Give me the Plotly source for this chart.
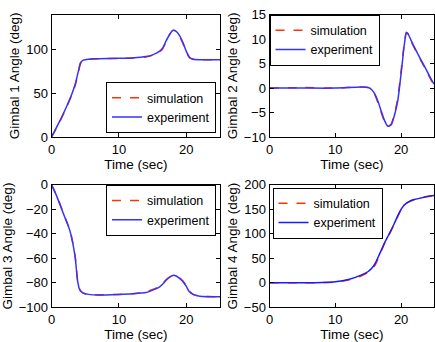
import plotly.graph_objects as go

# ---- data ----
t1 = [0, 1, 2, 3, 3.5, 4, 4.3, 4.7, 5.5, 7, 10, 12, 14, 15, 16, 16.5, 17, 17.5, 18, 18.5, 19, 19.5, 20, 20.5, 21, 22, 25]
g1_exp = [0, 15, 31, 49, 60, 76, 85, 88, 89, 89.5, 90, 90.5, 92, 94, 98, 102, 110, 117, 122, 121, 116, 108, 98, 91, 89, 88.5, 88.5]
g1_sim = [0, 14, 30, 48, 59, 75, 84, 87.5, 89, 89.5, 90, 90.5, 91.5, 93.5, 97, 101, 109, 117, 122, 121, 115, 107, 97, 90.5, 89, 88.5, 88.5]

t2 = [0, 5, 10, 14, 15, 15.5, 16, 16.5, 17, 17.5, 18, 18.5, 19, 19.5, 20, 20.5, 20.8, 21, 21.5, 22, 22.5, 23, 23.5, 24, 24.5, 25]
g2_exp = [0, 0, 0, 0.2, 0.1, -0.3, -1.2, -2.8, -4.8, -6.7, -7.8, -7.5, -5.5, -2.5, 3, 9, 11.3, 11.2, 9.8, 8.4, 7.1, 5.8, 4.6, 3.3, 2, 0.8]
g2_sim = [0, 0.1, 0, 0.2, 0.1, -0.4, -1.4, -3.1, -5.1, -6.9, -7.8, -7.3, -5.2, -2, 3.5, 9.4, 11.4, 11.1, 9.6, 8.2, 6.9, 5.6, 4.4, 3.1, 1.8, 0.6]

t3 = [0, 0.75, 1.75, 2.75, 3.5, 3.85, 4.2, 4.7, 5.5, 7, 10, 12, 14, 15, 16, 16.5, 17, 17.5, 18, 18.5, 19, 19.5, 20, 20.4, 21, 22, 25]
g3_exp = [0, -9, -23.5, -38, -59, -78, -86, -88.5, -89.5, -90, -89.5, -89, -88, -86, -83.5, -81, -78, -75.5, -74, -74.5, -76.5, -79, -83, -87, -89.5, -91, -91.5]
g3_sim = [0, -8.5, -23, -37.5, -58, -77, -85.5, -88.5, -89.5, -90, -89.5, -89, -87.5, -85.5, -83, -80.5, -77.5, -75.5, -74, -74.5, -76, -78.5, -82.5, -86.5, -89.5, -91, -91.5]

t4 = [0, 5, 8, 10, 12, 14, 15, 15.5, 16, 16.5, 17, 17.5, 18, 18.5, 19, 19.5, 20, 20.2, 20.5, 21, 22, 23, 24, 25]
g4_exp = [0, 0, 0.5, 2, 6.5, 16, 23, 29, 38, 52, 67, 82, 95, 108, 122, 137, 150, 154, 159, 164, 170, 173, 176, 178]
g4_sim = [0, 0, 0.3, 1.5, 5.5, 14, 21, 27, 35, 49, 65, 81, 94, 107, 121, 136, 150, 154, 159, 164, 170, 173, 176, 178]

y_titles = ["Gimbal 1 Angle (deg)", "Gimbal 2 Angle (deg)", "Gimbal 3 Angle (deg)", "Gimbal 4 Angle (deg)"]
y_ranges = [[0, 140], [-10, 15], [-100, 0], [-50, 200]]
y_dticks = [50, 5, 20, 50]

W, H = 435, 342
SIM_COLOR = "#ff3300"
EXP_COLORS = ["#3333ff", "#3333ff", "#3333ff", "#1a1aff"]

panels = [
    dict(t=t1, sim=g1_sim, exp=g1_exp),
    dict(t=t2, sim=g2_sim, exp=g2_exp),
    dict(t=t3, sim=g3_sim, exp=g3_exp),
    dict(t=t4, sim=g4_sim, exp=g4_exp),
]

# plot-area pixel boxes (left, right, top, bottom)
boxes = [(48, 218, 8, 136), (268, 434, 8, 136), (48, 218, 186, 314), (268, 434, 186, 314)]

legend_pos = [
    dict(x=214 / W, xanchor="right", y=1 - 132 / H, yanchor="bottom"),
    dict(x=268 / W, xanchor="left", y=1 - 8 / H, yanchor="top"),
    dict(x=214 / W, xanchor="right", y=1 - 186 / H, yanchor="top"),
    dict(x=271 / W, xanchor="left", y=1 - 189 / H, yanchor="top"),
]

fig = go.Figure()
font = dict(family="Liberation Sans, Arial, sans-serif", size=13, color="black")
layout = dict(
    width=W, height=H, margin=dict(l=0, r=0, t=0, b=0),
    paper_bgcolor="white", plot_bgcolor="white", font=font,
    showlegend=True,
)

for i, p in enumerate(panels):
    n = "" if i == 0 else str(i + 1)
    lg = "legend" if i == 0 else f"legend{i + 1}"
    fig.add_trace(go.Scatter(x=p["t"], y=p["sim"], mode="lines", name="simulation",
                             line=dict(color=SIM_COLOR, width=1.5, dash="dash", shape="spline", smoothing=0.6),
                             xaxis=f"x{n}", yaxis=f"y{n}", legend=lg))
    fig.add_trace(go.Scatter(x=p["t"], y=p["exp"], mode="lines", name="experiment",
                             line=dict(color=EXP_COLORS[i], width=1.5, shape="spline", smoothing=0.6),
                             xaxis=f"x{n}", yaxis=f"y{n}", legend=lg))
    l, r, tp, b = boxes[i]
    ax = dict(showline=True, linecolor="black", linewidth=1, mirror="ticks",
              ticks="inside", ticklen=4, tickcolor="black", showgrid=False, zeroline=False,
              tickfont=dict(size=13))
    layout[f"xaxis{n}"] = dict(ax, domain=[l / W, r / W], range=[0, 25], tickvals=[0, 10, 20],
                               anchor=f"y{n}", title=dict(text="Time (sec)", standoff=1, font=dict(size=13.5)))
    layout[f"yaxis{n}"] = dict(ax, domain=[1 - b / H, 1 - tp / H], range=y_ranges[i], dtick=y_dticks[i],
                               anchor=f"x{n}", title=dict(text=y_titles[i], standoff=3, font=dict(size=13.5)))
    layout[lg] = dict(legend_pos[i], xref="paper", yref="paper", bgcolor="white",
                      bordercolor="black", borderwidth=1, font=dict(size=12.5),
                      itemwidth=30, tracegroupgap=0)

fig.update_layout(**layout)
fig.write_html("out.html")
